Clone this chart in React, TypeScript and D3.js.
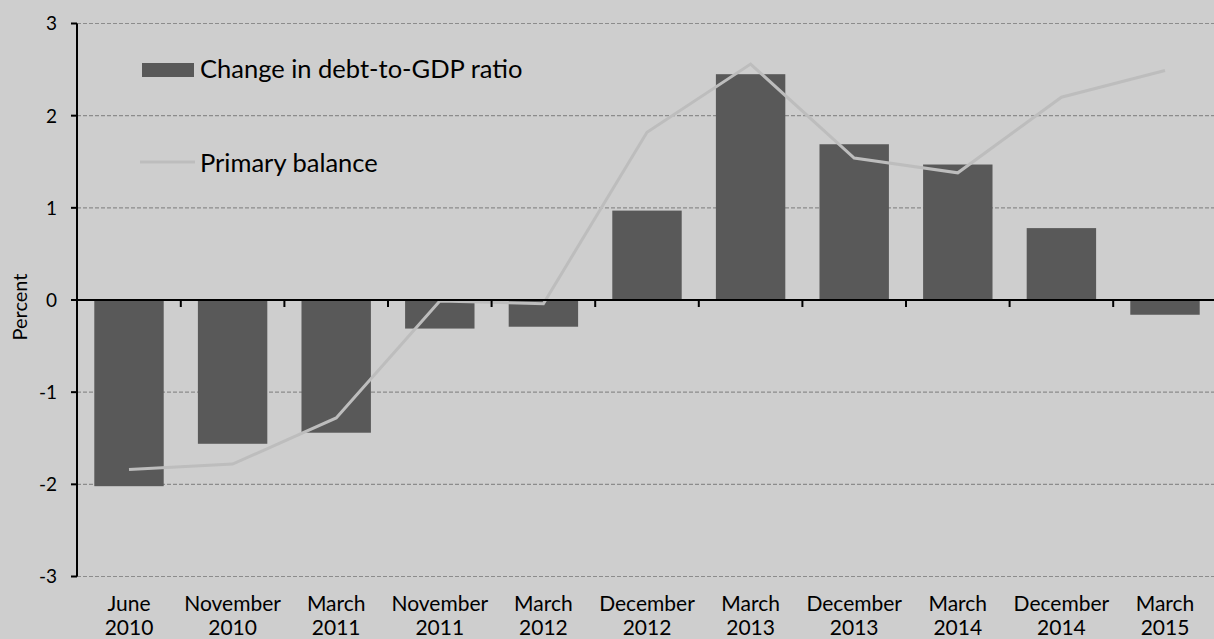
import React from "react";
import * as d3 from "d3";

const categories = [
  ["June", "2010"], ["November", "2010"], ["March", "2011"], ["November", "2011"],
  ["March", "2012"], ["December", "2012"], ["March", "2013"], ["December", "2013"],
  ["March", "2014"], ["December", "2014"], ["March", "2015"],
];
const debtChange = [-2.02, -1.56, -1.44, -0.31, -0.29, 0.97, 2.45, 1.69, 1.47, 0.78, -0.16];
const primaryBalance = [-1.84, -1.78, -1.28, -0.01, -0.04, 1.82, 2.56, 1.54, 1.38, 2.2, 2.49];
const yTicks = [3, 2, 1, 0, -1, -2, -3];

const W = 1214, H = 639;
const FONT = "Lato, 'Open Sans', sans-serif";

export default function App() {
  const keys = categories.map((_, i) => String(i));
  const x = d3.scaleBand().domain(keys).range([77.2, 1216.8]).paddingInner(0.33).paddingOuter(0.165);
  const xb = d3.scaleBand().domain(keys).range([77.2, 1216.8]);
  const y = d3.scaleLinear().domain([-3, 3]).range([576.5, 23.5]);
  const line = d3.line<number>()
    .x((_, i) => (xb(String(i)) as number) + xb.bandwidth() / 2)
    .y((d) => y(d));

  return (
    <svg width={W} height={H} style={{ position: "absolute", left: 0, top: 0, background: "#cecece" }}>
      <rect x={0} y={0} width={W} height={H} fill="#cecece" />
      {yTicks.filter((t) => t !== 0).map((t) => (
        <line key={t} x1={77} x2={W} y1={y(t)} y2={y(t)} stroke="#8c8c8c" strokeWidth={1.2} strokeDasharray="4,2" />
      ))}
      {debtChange.map((v, i) => (
        <rect key={i} x={x(String(i))} width={x.bandwidth()} y={y(Math.max(0, v))}
          height={Math.abs(y(v) - y(0))} fill="#595959" />
      ))}
      <path d={line(primaryBalance) || ""} fill="none" stroke="#bdbdbd" strokeWidth={3} />
      <line x1={77} x2={W} y1={y(0)} y2={y(0)} stroke="#000" strokeWidth={2} />
      {categories.slice(1).map((_, i) => {
        const bx = xb(String(i + 1)) as number;
        return <line key={i} x1={bx} x2={bx} y1={y(0)} y2={y(0) + 7} stroke="#000" strokeWidth={2} />;
      })}
      <line x1={77} x2={77} y1={y(3)} y2={y(-3)} stroke="#000" strokeWidth={2} />
      {yTicks.map((t) => (
        <g key={t}>
          <line x1={71} x2={77} y1={y(t)} y2={y(t)} stroke="#000" strokeWidth={2} />
          <text x={57} y={y(t)} dy="0.36em" textAnchor="end" fontFamily={FONT} fontSize={19} fill="#000">{t}</text>
        </g>
      ))}
      <text transform={`translate(27,307) rotate(-90)`} textAnchor="middle" fontFamily={FONT} fontSize={20} fill="#000">Percent</text>
      {categories.map((c, i) => {
        const cx = (xb(String(i)) as number) + xb.bandwidth() / 2;
        return (
          <g key={i}>
            <text x={cx} y={611} textAnchor="middle" fontFamily={FONT} fontSize={21} fill="#000">{c[0]}</text>
            <text x={cx} y={635} textAnchor="middle" fontFamily={FONT} fontSize={21} fill="#000">{c[1]}</text>
          </g>
        );
      })}
      <rect x={142} y={63} width={52} height={14} fill="#595959" />
      <text x={200} y={78} fontFamily={FONT} fontSize={25.5} fill="#000">Change in debt-to-GDP ratio</text>
      <line x1={140} x2={195} y1={162} y2={162} stroke="#bdbdbd" strokeWidth={3} />
      <text x={200} y={172} fontFamily={FONT} fontSize={25.5} fill="#000">Primary balance</text>
    </svg>
  );
}
